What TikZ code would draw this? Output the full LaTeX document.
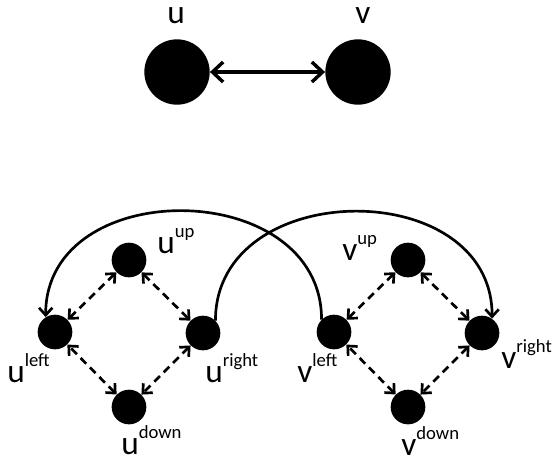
\documentclass[tikz,border=0pt]{standalone}
\usepackage{fontspec}
\setmainfont{Carlito}
\usetikzlibrary{arrows.meta}
\tikzset{
  big/.style={circle,fill=black,minimum size=49pt,inner sep=0pt},
  small/.style={circle,fill=black,minimum size=26pt,inner sep=0pt},
  barb/.tip={Straight Barb[length=8pt,width=15pt]},
  sbarb/.tip={Straight Barb[length=5.5pt,width=10pt]},
  link/.style={line width=2.6pt,barb-barb},
  dlink/.style={line width=2pt,dash pattern=on 6pt off 4pt,sbarb-sbarb},
  swing/.style={line width=2pt,-sbarb},
  lab/.style={anchor=base west,inner sep=0pt,font=\fontsize{25}{25}\selectfont}
}
\newcommand\lbl[2]{#1\raisebox{12pt}{\fontsize{14}{14}\selectfont #2}}
\begin{document}
\begin{tikzpicture}[x=0.75pt,y=-0.75pt]
  \useasboundingbox (0,0) rectangle (555,462);

  % top pair
  \node[big] (u) at (177,72) {};
  \node[big] (v) at (358,72) {};
  \node[lab] (tu) at (167,23) {u};
  \node[lab] (tv) at (355,23) {v};
  \draw[link] (u) -- (v);

  % left diamond
  \node[small] (uu) at (129,260) {};
  \node[small] (ul) at (55,332) {};
  \node[small] (ur) at (203,333) {};
  \node[small] (ud) at (129,407) {};

  % right diamond
  \node[small] (vu) at (408,260) {};
  \node[small] (vl) at (334,332) {};
  \node[small] (vr) at (482,333) {};
  \node[small] (vd) at (408,407) {};

  % labels
  \node[lab] (luu) at (157,253) {\lbl{u}{up}};
  \node[lab] (lul) at (7,382) {\lbl{u}{left}};
  \node[lab] (lur) at (205,382) {\lbl{u}{right}};
  \node[lab] (lud) at (121,454) {\lbl{u}{down}};
  \node[lab] (lvu) at (342,260) {\lbl{v}{up}};
  \node[lab] (lvl) at (297,382) {\lbl{v}{left}};
  \node[lab] (lvr) at (501,368) {\lbl{v}{right}};
  \node[lab] (lvd) at (401,455) {\lbl{v}{down}};

  % dashed links inside each diamond
  \draw[dlink] (ul) -- (uu);
  \draw[dlink] (uu) -- (ur);
  \draw[dlink] (ur) -- (ud);
  \draw[dlink] (ud) -- (ul);
  \draw[dlink] (vl) -- (vu);
  \draw[dlink] (vu) -- (vr);
  \draw[dlink] (vr) -- (vd);
  \draw[dlink] (vd) -- (vl);

  % crossing arcs between the diamonds
  \draw[swing] (ur.45) .. controls +(0,-144) and +(0,-144) .. (vr.55);
  \draw[swing] (vl.135) .. controls +(0,-143) and +(0,-143) .. (ul.122);
\end{tikzpicture}
\end{document}
